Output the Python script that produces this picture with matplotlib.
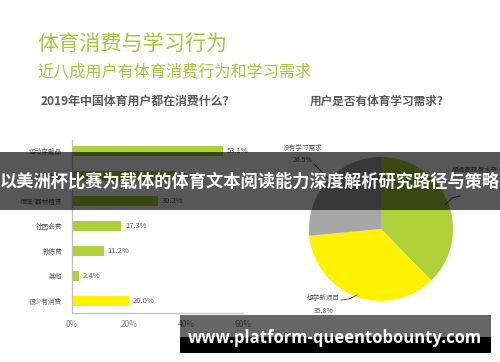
import matplotlib
matplotlib.use("Agg")
import matplotlib.pyplot as plt
from matplotlib.patches import Rectangle

plt.rcParams['font.family'] = ['Noto Sans CJK SC', 'DejaVu Sans']

categories = ["运动穿戴品", "运动用品", "场馆/器材租赁", "社团会费", "教练费", "其他", "很少有消费"]
values = [53.1, 36.6, 30.2, 17.3, 11.2, 2.4, 20.0]
x_ticks = [0, 20, 40, 60]
x_tick_labels = ["0%", "20%", "40%", "60%"]

pie_labels = ["想提高现有水平", "想学新项目", "没有学习需求"]
pie_values = [37.7, 35.8, 26.5]

W, H = 500, 362
fig = plt.figure(figsize=(5, 3.62), dpi=100)
fig.patch.set_facecolor("white")

def fx(x):
    return x / W

def fy(y):
    return 1 - y / H

def ftext(x, y, s, **kw):
    fig.text(fx(x), fy(y), s, **kw)

GREEN = "#aed038"
YELLOW = "#fff100"
GRAYT = "#595959"
TITLEG = "#a3c93c"

# Titles
ftext(37, 45, "体育消费与学习行为", fontsize=15.2, color=TITLEG, va="center", ha="left")
ftext(37, 72, "近八成用户有体育消费行为和学习需求", fontsize=11.6, color=TITLEG, va="center", ha="left")
ftext(41, 101, "2019年中国体育用户都在消费什么？", fontsize=8.6, color=GRAYT, weight="bold", va="center", ha="left")
ftext(310, 101, "用户是否有体育学习需求？", fontsize=8.4, color=GRAYT, weight="bold", va="center", ha="left")

# Bar chart axes
ax_l, ax_r, ax_t, ax_b = 72, 243, 140, 313
ax = fig.add_axes([fx(ax_l), fy(ax_b), fx(ax_r - ax_l), (ax_b - ax_t) / H])
ypos = list(range(len(categories)))
colors = [GREEN] * (len(categories) - 1) + [YELLOW]
ax.barh(ypos, values, height=0.38, color=colors)
ax.set_xlim(0, 60)
ax.set_ylim(6.48, -0.44)
ax.set_yticks(ypos)
ax.set_yticklabels(categories, fontsize=4.8, color=GRAYT)
ax.set_xticks(x_ticks)
ax.set_xticklabels(x_tick_labels, fontsize=6, color="#7f7f7f")
ax.tick_params(length=0, pad=7)
ax.tick_params(axis="x", pad=5)
for s in ["top", "right"]:
    ax.spines[s].set_visible(False)
for s in ["left", "bottom"]:
    ax.spines[s].set_color("#bfbfbf")
    ax.spines[s].set_linewidth(0.9)
ax.set_facecolor("none")
for yi, v in zip(ypos, values):
    ax.text(v + 1.3, yi, f"{v:.1f}%", fontsize=5.5, color=GRAYT, va="center", ha="left")

# Pie chart
cx, cy, r = 381, 229, 72
pax = fig.add_axes([fx(cx - r), fy(cy + r), 2 * r / W, 2 * r / H])
pax.pie(pie_values, colors=[GREEN, YELLOW, "#a6a6a6"], startangle=90, counterclock=False,
        radius=1.0, wedgeprops=dict(linewidth=0))
pax.set_xlim(-1, 1)
pax.set_ylim(-1, 1)
pax.set_aspect("equal")
pax.axis("off")

# Pie labels and leader lines
ftext(283, 148, pie_labels[2], fontsize=4.8, color=GRAYT, va="center", ha="left")
ftext(303, 160, f"{pie_values[2]:.1f}%", fontsize=5, color=GRAYT, va="center", ha="center")
fig.add_artist(plt.Line2D([fx(314), fx(320), fx(328)], [fy(164), fy(170), fy(178)], color="#404040", lw=0.6))
ftext(452, 170, pie_labels[0], fontsize=4.8, color=GRAYT, va="center", ha="left")
fig.add_artist(plt.Line2D([fx(460), fx(452), fx(445)], [fy(196), fy(198), fy(205)], color="#404040", lw=0.6))
ftext(307, 298, pie_labels[1], fontsize=4.8, color=GRAYT, va="center", ha="left")
ftext(324, 311, f"{pie_values[1]:.1f}%", fontsize=5, color=GRAYT, va="center", ha="center")
fig.add_artist(plt.Line2D([fx(341), fx(349), fx(357)], [fy(300), fy(299), fy(295)], color="#404040", lw=0.6))

# Banner overlay
fig.add_artist(Rectangle((0, fy(210)), 1, (210 - 152) / H, transform=fig.transFigure,
                         facecolor="black", alpha=0.66, edgecolor="none", zorder=10))
ftext(250, 182, "以美洲杯比赛为载体的体育文本阅读能力深度解析研究路径与策略", fontsize=12.4,
      color="white", weight="bold", va="center", ha="center", zorder=11)

# Watermark
fig.add_artist(Rectangle((fx(180), fy(337)), fx(491 - 180), (337 - 315) / H, transform=fig.transFigure,
                         facecolor="black", alpha=0.6, edgecolor="none", zorder=10))
fig.add_artist(Rectangle((fx(180), fy(353)), fx(491 - 180), (353 - 337) / H, transform=fig.transFigure,
                         facecolor="black", edgecolor="none", zorder=10))
ftext(335, 338, "www.platform-queentobounty.com", fontsize=12, color="white", weight="bold",
      family=["Open Sans", "DejaVu Sans"], va="center", ha="center", zorder=11)

fig.savefig("out.png", dpi=100)
